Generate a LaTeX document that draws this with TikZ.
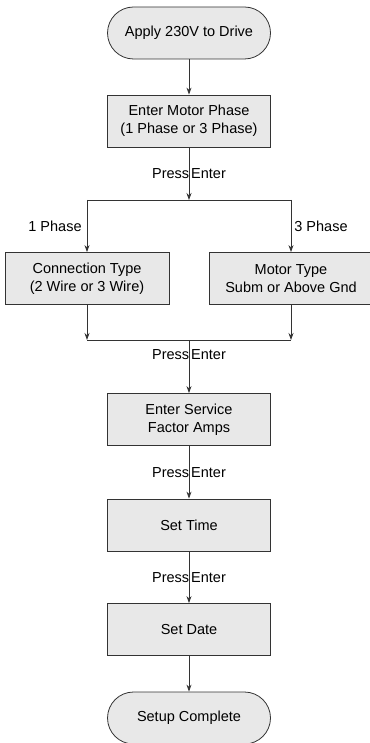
\documentclass[tikz,border=0pt]{standalone}
\usepackage{fontspec}
\setmainfont{Liberation Sans}
\usetikzlibrary{arrows.meta}
\definecolor{boxgray}{rgb}{0.91,0.91,0.91}
\definecolor{linegray}{rgb}{0.2,0.2,0.2}

\tikzset{
  stepbox/.style={draw=linegray, fill=boxgray, line width=0.8pt,
    minimum width=163pt, minimum height=52pt, align=center,
    font=\fontsize{14.5}{18}\selectfont},
  termbox/.style={stepbox, rounded corners=26pt},
  arr/.style={draw=linegray, line width=0.8pt, -{Stealth[length=7pt,width=5pt]}},
  plain/.style={draw=linegray, line width=0.8pt},
  lbl/.style={font=\fontsize{14.5}{17}\selectfont, inner sep=2pt}
}

\begin{document}
\begin{tikzpicture}[x=1pt,y=-1pt]
\useasboundingbox (0,0) rectangle (369,743);

\node[termbox] (start) at (189,33) {Apply 230V to Drive};
\node[stepbox] (phase) at (189,121) {Enter Motor Phase\\(1 Phase or 3 Phase)};
\coordinate (split) at (189,200);
\node[stepbox, minimum width=164pt] (conn) at (87,278.5) {Connection Type\\(2 Wire or 3 Wire)};
\node[stepbox, minimum width=164pt] (motor) at (291,278.5) {Motor Type\\Subm or Above Gnd};
\coordinate (join) at (189,340);
\node[stepbox] (sfa) at (189,419.5) {Enter Service\\Factor Amps};
\node[stepbox] (time) at (189,525) {Set Time};
\node[stepbox] (date) at (189,629.5) {Set Date};
\node[termbox] (done) at (189,718) {Setup Complete};

% main line and the two branches
\draw[arr] (start) -- (phase);
\draw[arr] (phase) -- node[lbl]{Press\hspace{2pt}Enter} (split);
\draw[plain] (conn.north |- split) -- (motor.north |- split);
\draw[arr] (conn.north |- split) -- node[lbl, anchor=east, xshift=-3pt]{1 Phase} (conn.north);
\draw[arr] (motor.north |- split) -- node[lbl, anchor=west, xshift=1pt]{3 Phase} (motor.north);
\draw[arr] (conn.south) -- (conn.south |- join);
\draw[arr] (motor.south) -- (motor.south |- join);
\draw[plain] (conn.south |- join) -- (motor.south |- join);
\draw[arr] (join) -- node[lbl, pos=0.27]{Press\hspace{2pt}Enter} (sfa);
\draw[arr] (sfa) -- node[lbl]{Press\hspace{2pt}Enter} (time);
\draw[arr] (time) -- node[lbl]{Press\hspace{2pt}Enter} (date);
\draw[arr] (date) -- (done);
\end{tikzpicture}
\end{document}
